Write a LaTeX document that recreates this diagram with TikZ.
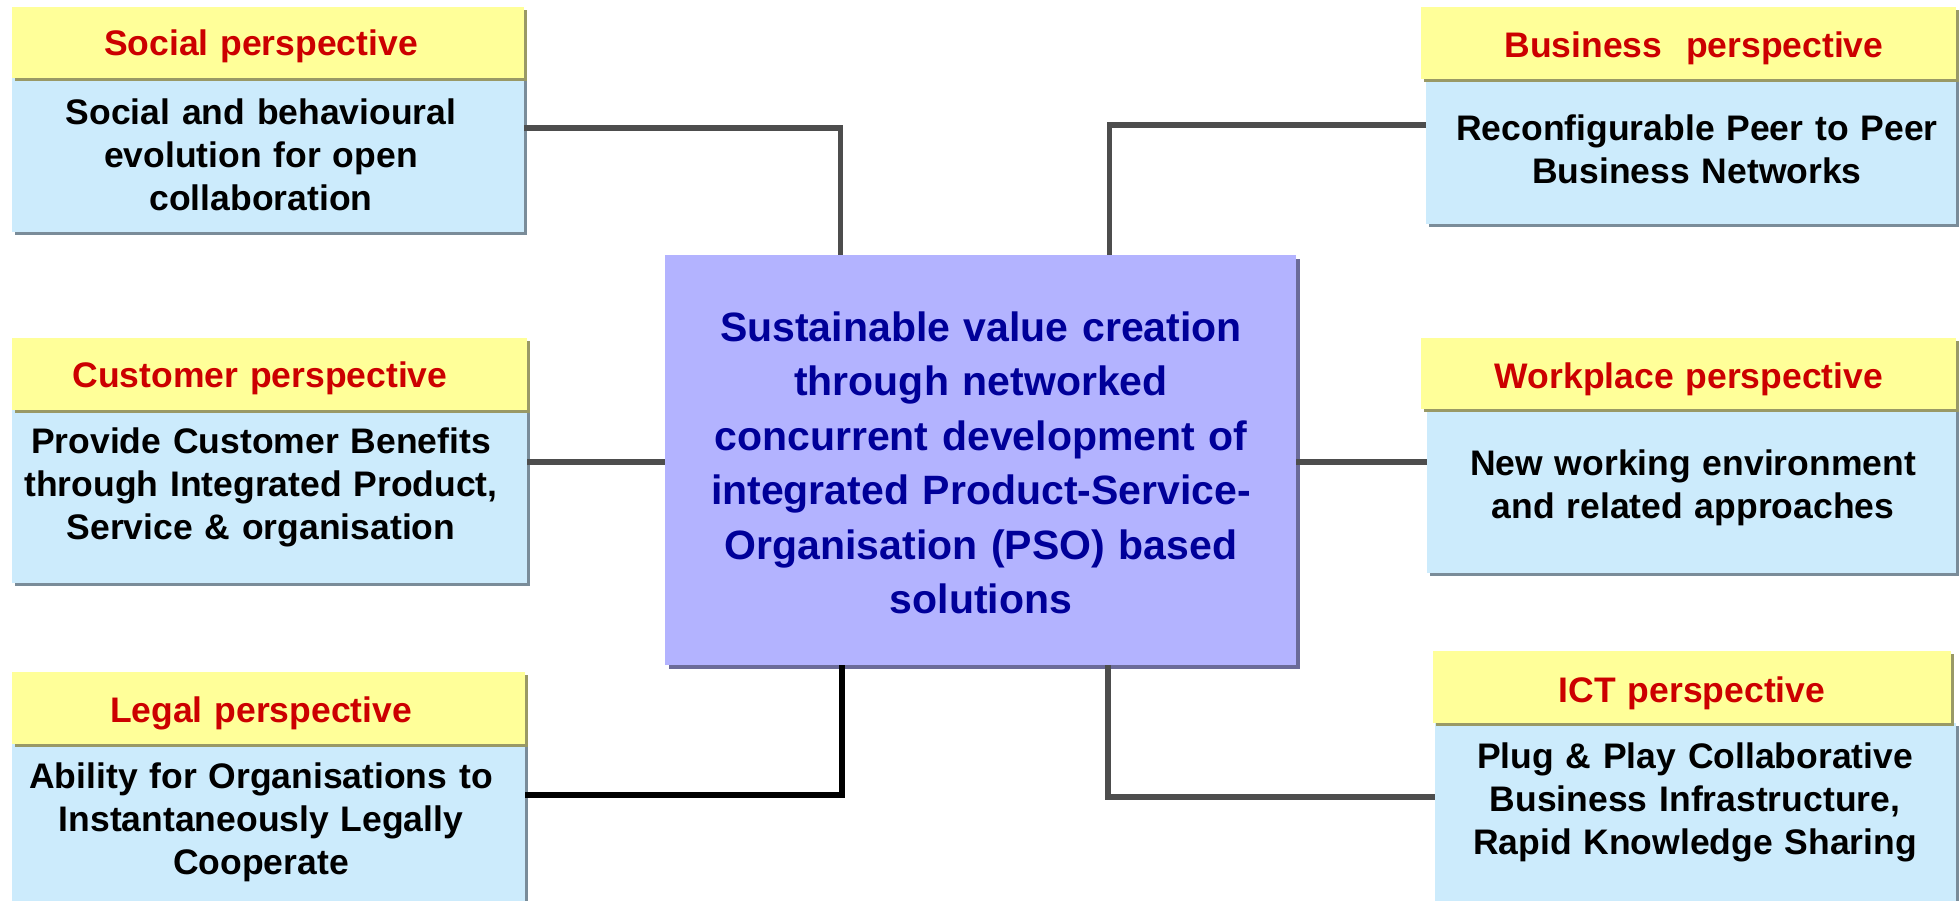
\documentclass[tikz,border=0pt]{standalone}
\usepackage{fontspec}
\setmainfont{Liberation Sans}
\usetikzlibrary{shadows}
\definecolor{hdrfill}{HTML}{FFFF99}
\definecolor{hdrshadow}{HTML}{999966}
\definecolor{bodyfill}{HTML}{CCEBFC}
\definecolor{bodyshadow}{HTML}{7A8C99}
\definecolor{ctrfill}{HTML}{B3B3FF}
\definecolor{ctrshadow}{HTML}{6B6B99}
\definecolor{hdrtext}{HTML}{CC0000}
\definecolor{ctrtext}{HTML}{000099}
\definecolor{connc}{HTML}{4D4D4D}
\begin{document}
\begin{tikzpicture}[x=1pt,y=-1pt,
  hdrbox/.style={rectangle, inner sep=0pt, outer sep=0pt, anchor=north west, fill=hdrfill,
    general shadow={fill=hdrshadow, shadow xshift=3pt, shadow yshift=-3pt}},
  bodybox/.style={rectangle, inner sep=0pt, outer sep=0pt, anchor=north west, fill=bodyfill,
    general shadow={fill=bodyshadow, shadow xshift=3pt, shadow yshift=-3pt}},
  ctrbox/.style={rectangle, inner sep=0pt, outer sep=0pt, anchor=north west, fill=ctrfill,
    general shadow={fill=ctrshadow, shadow xshift=4pt, shadow yshift=-4pt}},
  hdrlbl/.style={inner sep=0pt, anchor=base, align=center, text width=520pt,
    text=hdrtext, font=\fontsize{35.5}{43}\selectfont\bfseries},
  bodylbl/.style={inner sep=0pt, anchor=base, align=center, text width=520pt,
    text=black, font=\fontsize{35.5}{43}\selectfont\bfseries},
  ctrlbl/.style={inner sep=0pt, anchor=base, align=center, text width=640pt,
    text=ctrtext, font=\fontsize{41}{54.5}\selectfont\bfseries},
  conn/.style={draw=connc, line width=5.5pt},
  connblk/.style={draw=black, line width=5.5pt}]
\useasboundingbox (0,0) rectangle (1959,900);

% bodies
\node[bodybox, minimum width=512pt, minimum height=154pt] (socB) at (12,78) {};
\node[bodybox, minimum width=530pt, minimum height=145pt] (busB) at (1426,79) {};
\node[bodybox, minimum width=515pt, minimum height=173pt] (cusB) at (12,410) {};
\node[bodybox, minimum width=529pt, minimum height=164pt] (wrkB) at (1427,409) {};
\node[bodybox, minimum width=513pt, minimum height=220pt] (legB) at (12,744) {};
\node[bodybox, minimum width=521pt, minimum height=230pt] (ictB) at (1435,723) {};

% headers
\node[hdrbox, minimum width=512pt, minimum height=71pt] (socH) at (12,7) {};
\node[hdrbox, minimum width=535pt, minimum height=72pt] (busH) at (1421,7) {};
\node[hdrbox, minimum width=515pt, minimum height=72pt] (cusH) at (12,338) {};
\node[hdrbox, minimum width=535pt, minimum height=71pt] (wrkH) at (1421,338) {};
\node[hdrbox, minimum width=513pt, minimum height=72pt] (legH) at (12,672) {};
\node[hdrbox, minimum width=518pt, minimum height=72pt] (ictH) at (1433,651) {};

% centre
\node[ctrbox, minimum width=631pt, minimum height=410pt] (ctr) at (665,255) {};

% header labels
\node[hdrlbl] (socHt) at (261,55) {Social perspective};
\node[hdrlbl] (busHt) at (1694,57) {Business\ \ perspective};
\node[hdrlbl] (cusHt) at (260,387) {Customer perspective};
\node[hdrlbl] (wrkHt) at (1689,388) {Workplace perspective};
\node[hdrlbl] (legHt) at (261,722) {Legal perspective};
\node[hdrlbl] (ictHt) at (1692,702) {ICT perspective};

% body labels
\node[bodylbl] (socBt) at (261,124) {Social and behavioural\\evolution for open\\collaboration};
\node[bodylbl] (busBt) at (1697,140) {Reconfigurable Peer to Peer\\Business Networks};
\node[bodylbl] (cusBt) at (261,453) {Provide Customer Benefits\\through Integrated Product,\\Service \& organisation};
\node[bodylbl] (wrkBt) at (1693,475) {New working environment\\and related approaches};
\node[bodylbl] (legBt) at (261,788) {Ability for Organisations to\\Instantaneously Legally\\Cooperate};
\node[bodylbl] (ictBt) at (1695,768) {Plug \& Play Collaborative\\Business Infrastructure,\\Rapid Knowledge Sharing};

% centre label
\node[ctrlbl] (ctrt) at (981,341) {Sustainable value creation\\through networked\\concurrent development of\\integrated Product-Service-\\Organisation (PSO) based\\solutions};

% connectors
\draw[conn] (socB.east |- 0,128) -| ([xshift=-140pt]ctr.north);
\draw[conn] (busB.west |- 0,125) -| ([xshift=129pt]ctr.north);
\draw[conn] (cusB.east |- 0,462) -- (ctr.west |- 0,462);
\draw[conn] (ctr.east |- 0,462) -- (wrkB.west |- 0,462);
\draw[connblk] ([xshift=-138.5pt]ctr.south) |- (legB.east |- 0,795);
\draw[conn] ([xshift=127.5pt]ctr.south) |- (ictB.west |- 0,797);
\end{tikzpicture}
\end{document}
